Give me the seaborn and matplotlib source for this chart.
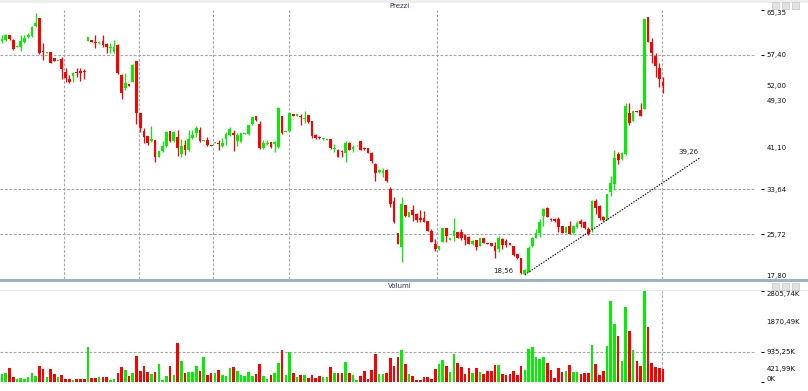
import numpy as np
import pandas as pd
import matplotlib
matplotlib.use("Agg")
import matplotlib.pyplot as plt
import seaborn as sns
from matplotlib.patches import Rectangle

# daily OHLC and volume in thousands
opens = [59.92, 60.04, 60.93, 60.04, 58.86, 58.86, 59.75, 60.51, 60.75, 62.52,
         63.88, 58.09, 57.80, 57.86, 56.80, 56.30, 56.62, 54.44, 53.20, 53.67,
         54.44, 54.61, 54.55, 59.92, 60.04, 59.69, 59.45, 59.86, 59.27, 58.62,
         57.98, 59.16, 53.85, 51.60, 52.25, 52.67, 56.32, 47.06, 43.93, 43.05,
         42.22, 42.34, 39.39, 40.40, 41.28, 43.93, 42.22, 42.93, 39.86, 41.46,
         40.57, 42.64, 43.52, 44.11, 42.22, 42.34, 41.46, 41.87, 41.87, 41.28,
         42.46, 43.23, 43.60, 42.16, 42.05, 43.45, 43.40, 45.17, 46.59, 45.17,
         41.04, 41.63, 41.93, 41.75, 41.16, 46.59, 43.80, 43.99, 46.88, 46.65,
         46.53, 46.00, 46.77, 45.76, 43.20, 42.90, 42.50, 42.35, 42.46, 40.75,
         40.69, 40.40, 40.10, 41.87, 40.75, 41.40, 42.16, 41.00, 40.98, 40.10,
         38.21, 36.80, 36.56, 37.15, 33.78, 31.54, 25.94, 23.46, 30.84, 28.77,
         30.07, 29.36, 28.60, 28.60, 28.06, 26.29, 24.05, 23.05, 24.35, 26.82,
         24.76, 25.41, 26.06, 26.12, 25.64, 25.23, 24.05, 24.64, 23.64, 25.05,
         24.17, 24.17, 23.64, 23.05, 24.94, 24.52, 24.17, 23.58, 22.28, 21.50,
         18.70, 19.04, 23.58, 25.11, 25.94, 28.89, 30.42, 28.42, 28.45, 28.48,
         27.12, 25.94, 27.12, 25.94, 27.00, 28.06, 27.89, 26.71, 26.41, 31.60,
         30.66, 28.77, 28.30, 33.20, 34.55, 39.98, 39.10, 39.86, 47.06, 45.76,
         47.47, 47.65, 47.89, 64.17, 59.75, 57.27, 55.15, 52.67]
highs = [60.93, 61.04, 60.98, 60.16, 59.10, 60.93, 60.93, 61.22, 62.52, 64.76,
         64.00, 59.57, 57.98, 57.92, 56.85, 56.40, 57.09, 55.03, 53.85, 54.44,
         55.03, 55.03, 54.91, 60.63, 60.10, 60.93, 59.80, 60.93, 59.57, 59.45,
         60.04, 59.27, 54.02, 54.26, 52.31, 55.73, 56.38, 47.10, 44.41, 43.10,
         44.82, 42.40, 40.50, 42.16, 43.90, 44.00, 43.90, 44.11, 42.52, 42.34,
         44.11, 44.11, 44.80, 44.60, 42.40, 42.93, 41.50, 42.05, 42.34, 42.64,
         43.82, 44.70, 44.11, 43.64, 43.60, 43.60, 45.10, 46.50, 46.60, 45.76,
         42.34, 42.34, 42.05, 42.22, 48.24, 46.70, 44.00, 47.10, 47.00, 46.95,
         46.88, 47.47, 46.85, 45.80, 43.40, 43.00, 42.80, 42.50, 42.50, 41.75,
         40.75, 40.57, 42.16, 42.05, 41.46, 41.50, 42.20, 41.20, 41.00, 40.20,
         38.30, 37.20, 37.44, 37.20, 34.08, 32.31, 25.94, 32.31, 30.90, 29.70,
         30.84, 29.40, 29.95, 29.83, 28.10, 26.71, 24.94, 23.70, 26.90, 26.90,
         25.10, 28.65, 26.10, 26.65, 25.70, 25.40, 24.64, 24.70, 25.10, 25.10,
         24.20, 24.20, 24.35, 25.35, 25.00, 24.94, 24.20, 23.65, 22.30, 21.60,
         19.50, 23.58, 25.20, 26.71, 28.48, 30.42, 30.50, 28.50, 28.50, 28.77,
         27.20, 27.10, 28.06, 27.30, 28.00, 28.48, 28.00, 27.00, 31.72, 32.02,
         30.84, 28.90, 32.90, 36.00, 40.60, 40.28, 40.30, 48.83, 48.83, 47.50,
         47.50, 48.83, 63.80, 64.20, 60.34, 57.68, 55.91, 53.43]
lows = [59.57, 59.92, 60.10, 58.27, 58.74, 58.15, 59.57, 60.34, 60.51, 62.40,
        57.56, 56.50, 57.74, 55.97, 56.26, 56.25, 53.14, 52.67, 52.37, 52.67,
        53.55, 52.84, 53.14, 59.80, 59.69, 58.68, 59.30, 58.86, 57.68, 57.68,
        57.68, 54.02, 49.54, 51.19, 51.90, 52.55, 45.17, 43.80, 41.87, 41.46,
        42.05, 38.50, 39.30, 40.28, 41.20, 42.10, 42.10, 39.57, 39.39, 39.69,
        40.50, 42.52, 42.93, 42.10, 42.15, 41.34, 41.30, 41.80, 40.69, 41.16,
        41.46, 43.05, 40.45, 41.34, 42.00, 43.40, 43.30, 45.10, 45.80, 40.70,
        40.75, 41.46, 41.04, 40.28, 41.04, 43.50, 43.70, 43.90, 46.60, 46.60,
        45.00, 45.29, 45.40, 42.70, 42.60, 42.50, 42.40, 42.30, 40.80, 40.28,
        39.30, 39.39, 38.50, 40.57, 40.28, 41.35, 40.60, 40.60, 40.00, 38.39,
        35.08, 36.60, 35.85, 34.91, 30.54, 27.71, 23.93, 20.81, 28.80, 28.70,
        28.06, 27.89, 27.89, 27.80, 26.20, 24.30, 22.75, 23.00, 24.30, 24.35,
        24.70, 24.46, 25.00, 24.64, 23.76, 24.00, 23.76, 22.99, 23.60, 24.10,
        24.00, 23.60, 21.52, 22.52, 23.17, 23.46, 23.80, 21.95, 21.40, 18.70,
        18.56, 19.00, 23.50, 25.00, 25.23, 27.18, 28.70, 28.10, 27.90, 26.12,
        25.90, 25.90, 25.70, 25.80, 26.90, 27.00, 26.60, 25.50, 26.12, 29.36,
        28.30, 28.00, 28.18, 32.50, 33.50, 38.21, 38.90, 39.70, 45.00, 45.70,
        47.30, 46.59, 47.80, 59.70, 55.91, 53.55, 51.78, 50.75]
closes = [60.22, 60.93, 60.16, 58.39, 58.98, 59.87, 60.46, 60.87, 62.40, 63.11,
          57.80, 57.92, 57.92, 56.03, 56.32, 56.36, 54.91, 53.26, 52.67, 54.14,
          54.14, 54.26, 54.38, 60.51, 59.75, 59.57, 59.63, 59.16, 58.86, 58.74,
          58.86, 54.14, 50.60, 52.37, 51.96, 55.62, 47.06, 44.41, 42.93, 41.87,
          42.46, 39.39, 40.45, 41.28, 43.82, 42.22, 43.82, 40.98, 41.34, 40.57,
          42.52, 43.23, 44.41, 42.22, 42.34, 41.46, 41.34, 42.00, 41.63, 41.87,
          43.40, 44.23, 43.30, 43.23, 43.52, 43.52, 45.00, 46.47, 45.88, 40.87,
          41.87, 41.87, 41.16, 41.93, 47.95, 43.64, 43.95, 47.06, 46.65, 46.88,
          46.35, 46.18, 45.47, 43.00, 42.80, 42.70, 42.70, 42.45, 40.87, 40.90,
          39.39, 40.20, 41.87, 40.69, 41.20, 41.45, 40.69, 40.75, 40.10, 38.62,
          36.56, 37.00, 36.91, 35.14, 31.13, 27.89, 24.05, 31.01, 28.89, 29.66,
          29.07, 28.30, 28.18, 27.89, 26.29, 24.35, 23.05, 23.64, 26.82, 25.35,
          25.05, 26.23, 25.05, 25.11, 24.64, 24.05, 24.46, 23.46, 25.05, 24.17,
          24.05, 23.64, 22.75, 25.05, 23.76, 23.76, 23.87, 22.04, 21.52, 18.90,
          19.40, 23.28, 25.11, 25.94, 27.89, 30.13, 28.77, 28.18, 28.00, 27.00,
          25.94, 27.00, 25.82, 27.18, 27.71, 27.60, 26.88, 25.82, 31.54, 30.42,
          28.65, 28.18, 32.78, 34.79, 39.27, 38.80, 40.16, 48.36, 45.29, 47.47,
          47.35, 46.65, 63.76, 59.75, 57.68, 55.50, 53.08, 52.00]
volumes_k = [254, 285, 438, 162, 101, 132, 101, 162, 285, 193,
             499, 407, 162, 407, 254, 162, 224, 101, 101, 70,
             101, 101, 101, 1081, 132, 132, 162, 162, 162, 70,
             101, 285, 469, 377, 193, 285, 806, 346, 499, 316,
             254, 316, 561, 70, 193, 499, 224, 1204, 652, 285,
             316, 316, 499, 346, 775, 224, 285, 285, 377, 224,
             193, 438, 469, 346, 224, 193, 316, 193, 254, 561,
             193, 101, 224, 285, 591, 989, 224, 928, 285, 162,
             224, 224, 132, 224, 132, 193, 162, 162, 469, 285,
             285, 285, 622, 285, 224, 70, 193, 346, 101, 377,
             867, 254, 254, 285, 744, 499, 775, 989, 561, 254,
             193, 70, 70, 162, 162, 101, 407, 561, 683, 499,
             316, 867, 591, 469, 254, 438, 285, 438, 316, 254,
             346, 346, 530, 530, 254, 224, 254, 346, 224, 499,
             377, 1020, 1081, 775, 714, 775, 591, 377, 132, 438,
             316, 346, 530, 316, 316, 254, 285, 285, 1142, 561,
             224, 346, 1112, 2490, 1786, 1418, 652, 2306, 1571, 980,
             652, 499, 2806, 1694, 591, 469, 438, 407]

price_ticks = [65.35, 57.40, 33.64, 25.72, 17.80]
price_marks = [52.00, 49.30, 41.10]
price_grid = [57.40, 33.64, 25.72]
vol_ticks = [2805.74, 935.25, 0]
vol_marks = [1870.49, 421.99]
vol_grid = [935.25]
date_grid = [16.6, 36.7, 56.5, 76.9, 116.5]   # candle index of vertical lines
cursor_idx = 176.8
trend_start = (140, 18.56)
trend_end = (187, 39.26)

GREEN = "#00f000"
RED = "#ff0000"
GRID = "#a6a6a6"

sns.set_theme(style="white")
plt.rcParams["font.family"] = ["DejaVu Sans"]
plt.rcParams["lines.scale_dashes"] = False

df = pd.DataFrame({"open": opens, "high": highs, "low": lows,
                   "close": closes, "volume": volumes_k})
df["idx"] = np.arange(len(df))
df["dir"] = np.where(df["close"] >= df["open"], "up", "down")
colors = np.where(df["dir"] == "up", GREEN, RED)

W, H = 808, 391
fig = plt.figure(figsize=(W / 100, H / 100), dpi=100)
fig.patch.set_facecolor("white")


def box(x0, y0, x1, y1):
    # pixel box -> figure fraction rect
    return [x0 / W, 1 - y1 / H, (x1 - x0) / W, (y1 - y0) / H]


ax = fig.add_axes(box(0, 10, 761, 279))
axv = fig.add_axes(box(0, 290.7, 761, 382.3))

# candles
ax.vlines(df["idx"], df["low"], df["high"], colors=colors, lw=0.9, zorder=3)
body_lo = np.minimum(df["open"], df["close"])
body_h = np.maximum((df["close"] - df["open"]).abs(), 0.17)
ax.bar(df["idx"], body_h, bottom=body_lo, width=0.72, color=colors,
       linewidth=0, zorder=4)

# volume
sns.barplot(data=df, x="idx", y="volume", hue="dir",
            palette={"up": GREEN, "down": RED}, dodge=False, width=0.7,
            saturation=1, linewidth=0, legend=False, ax=axv, zorder=3)
axv.set_xlabel("")
axv.set_ylabel("")

dash = (0, (2.0, 1.2))
for v in price_grid:
    ax.axhline(v, xmax=755 / 761, color=GRID, lw=0.8, ls=dash, zorder=1)
for i in date_grid:
    ax.axvline(i, color=GRID, lw=0.8, ls=dash, zorder=1)
ax.axvline(cursor_idx, color=GRID, lw=0.8, ls=dash, zorder=1)
axv.axvline(cursor_idx, color=GRID, lw=0.8, ls=dash, zorder=1)
for v in vol_grid:
    axv.axhline(v, xmax=755 / 761, color=GRID, lw=0.8, ls=dash, zorder=1)

# trend line
ax.plot([trend_start[0], trend_end[0]], [trend_start[1], trend_end[1]],
        color="black", lw=0.8, ls=(0, (1.0, 1.0)), zorder=5)
ax.annotate(f"{trend_start[1]:.2f}".replace(".", ","), xy=trend_start,
            xytext=(-8, 2.5), textcoords="offset points", ha="right",
            va="center", fontsize=5, color="#222222")
ax.annotate(f"{trend_end[1]:.2f}".replace(".", ","), xy=trend_end,
            xytext=(-16, 4.3), textcoords="offset points", ha="left",
            va="center", fontsize=5, color="#222222")


def fmt(v):
    return f"{v:.2f}".replace(".", ",")


def fmt_k(v):
    return "0K" if v == 0 else fmt(v) + "K"


for a in (ax, axv):
    a.set_xlim(-0.55, 203.25)
    a.set_xticks([])
    a.set_facecolor("white")
    for s in a.spines.values():
        s.set_visible(False)
    a.yaxis.tick_right()
    a.tick_params(axis="y", which="major", length=2.2, width=0.8,
                  color="black", pad=1.6, labelsize=5, labelcolor="#111111")
    a.tick_params(axis="y", which="minor", length=0, pad=3.8,
                  labelsize=5, labelcolor="#111111")

ax.set_ylim(17.80, 65.35)
ax.set_yticks(price_ticks, labels=[fmt(v) for v in price_ticks])
ax.set_yticks(price_marks, labels=[fmt(v) for v in price_marks], minor=True)
axv.set_ylim(0, 2805.74)
axv.set_yticks(vol_ticks, labels=[fmt_k(v) for v in vol_ticks])
axv.set_yticks(vol_marks, labels=[fmt_k(v) for v in vol_marks], minor=True)

for lab in ax.yaxis.get_majorticklabels():
    if lab.get_text() == fmt(price_ticks[0]):
        lab.set_va("top")
    if lab.get_text() == fmt(price_ticks[-1]):
        lab.set_va("bottom")
for lab in axv.yaxis.get_majorticklabels():
    if lab.get_text() == fmt_k(vol_ticks[0]):
        lab.set_va("top")
    if lab.get_text() == "0K":
        lab.set_va("bottom")

# panel chrome
fig.add_artist(Rectangle((0, 1 - 2.5 / H), 1, 2.5 / H, transform=fig.transFigure,
                         color="#eeeeee", lw=0))
fig.add_artist(Rectangle((0, 1 - 281.5 / H), 1, 2.2 / H, transform=fig.transFigure,
                         color="#9cb2c8", lw=0))
fig.add_artist(Rectangle((0, 1 - 290.6 / H), 1, 0.8 / H, transform=fig.transFigure,
                         color="#e6e6e6", lw=0))
for y0 in (2, 283):
    for x0 in (772, 782, 792):
        fig.add_artist(Rectangle((x0 / W, 1 - (y0 + 6.5) / H), 7 / W, 6.5 / H,
                                 transform=fig.transFigure, facecolor="#e2e2e2",
                                 edgecolor="#c4c4c4", lw=0.5))
fig.text(400 / W, 1 - 5.5 / H, "Prezzi", ha="center", va="center",
         fontsize=5, color="#303060")
fig.text(400 / W, 1 - 286 / H, "Volumi", ha="center", va="center",
         fontsize=5, color="#303060")

fig.savefig("out.png", dpi=100)
